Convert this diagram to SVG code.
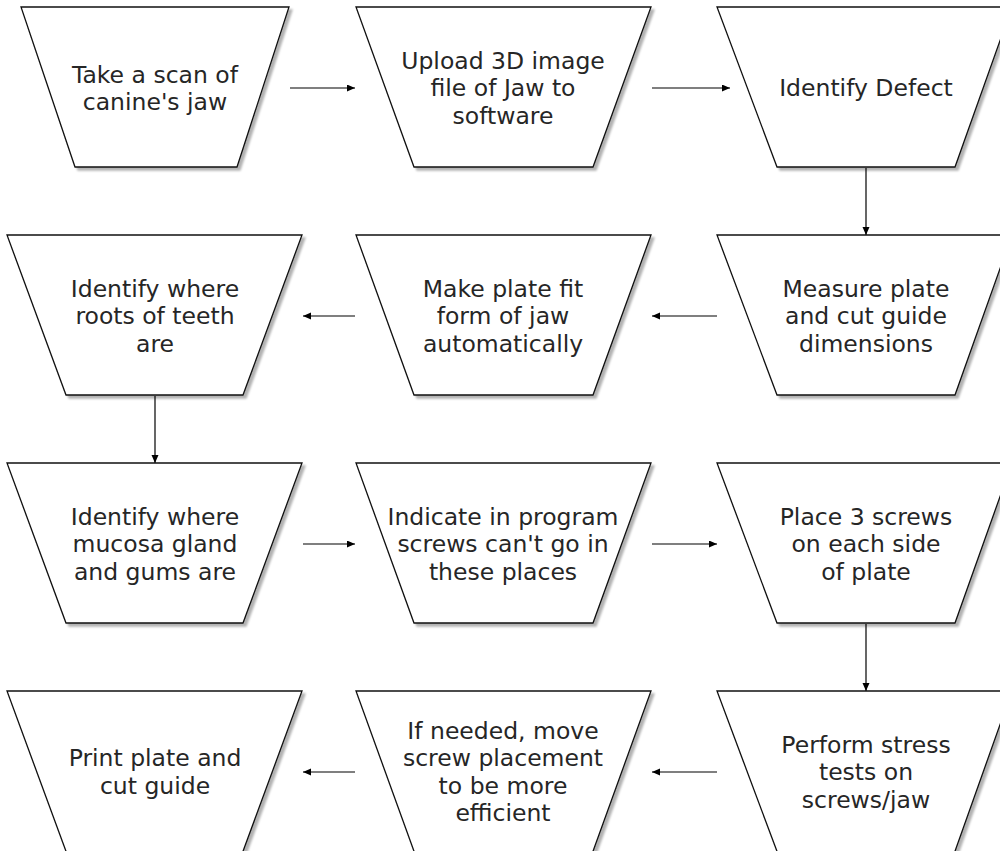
<svg xmlns="http://www.w3.org/2000/svg" width="1000" height="851" viewBox="0 0 1000 851">
<defs>
<filter id="sh" x="-10%" y="-10%" width="130%" height="130%">
<feDropShadow dx="3" dy="3" stdDeviation="1" flood-color="#000" flood-opacity="0.3"/>
</filter>
<marker id="ah" markerWidth="9" markerHeight="8" refX="8" refY="3.5" orient="auto" markerUnits="userSpaceOnUse">
<path d="M0,0 L8,3.5 L0,7 z" fill="#000"/>
</marker>
</defs>
<style>
.shape{fill:#fff;stroke:#111;stroke-width:1.3;filter:url(#sh)}
.lbl{font-family:"DejaVu Sans",Verdana,sans-serif;font-size:23.5px;fill:#262626;text-anchor:middle}
.edge{stroke:#000;stroke-width:1.2;fill:none;marker-end:url(#ah)}
</style>
<rect width="1000" height="851" fill="#fff"/>
<g id="connectors">
<line class="edge" x1="290" y1="88" x2="355" y2="88"/>
<line class="edge" x1="652" y1="88" x2="730" y2="88"/>
<line class="edge" x1="866" y1="168" x2="866" y2="235"/>
<line class="edge" x1="717" y1="316" x2="652" y2="316"/>
<line class="edge" x1="355" y1="316" x2="303" y2="316"/>
<line class="edge" x1="155" y1="396" x2="155" y2="463"/>
<line class="edge" x1="303" y1="544" x2="355" y2="544"/>
<line class="edge" x1="652" y1="544" x2="717" y2="544"/>
<line class="edge" x1="866" y1="624" x2="866" y2="691"/>
<line class="edge" x1="717" y1="772" x2="652" y2="772"/>
<line class="edge" x1="355" y1="772" x2="303" y2="772"/>
</g>
<g id="n1"><polygon class="shape" points="21,7 289,7 237,167 75,167"/>
<text class="lbl"><tspan x="155" y="82.5">Take a scan of</tspan><tspan x="155" y="110">canine's jaw</tspan></text></g>
<g id="n2"><polygon class="shape" points="356,7 651,7 593,167 414,167"/>
<text class="lbl"><tspan x="503" y="68.5">Upload 3D image</tspan><tspan x="503" y="96">file of Jaw to</tspan><tspan x="503" y="123.5">software</tspan></text></g>
<g id="n3"><polygon class="shape" points="717,7 1012,7 955,167 777,167"/>
<text class="lbl"><tspan x="866" y="96">Identify Defect</tspan></text></g>
<g id="n4"><polygon class="shape" points="717,235 1012,235 955,395 777,395"/>
<text class="lbl"><tspan x="866" y="296.5">Measure plate</tspan><tspan x="866" y="324">and cut guide</tspan><tspan x="866" y="351.5">dimensions</tspan></text></g>
<g id="n5"><polygon class="shape" points="356,235 651,235 593,395 414,395"/>
<text class="lbl"><tspan x="503" y="296.5">Make plate fit</tspan><tspan x="503" y="324">form of jaw</tspan><tspan x="503" y="351.5">automatically</tspan></text></g>
<g id="n6"><polygon class="shape" points="7,235 302,235 243,395 66,395"/>
<text class="lbl"><tspan x="155" y="296.5">Identify where</tspan><tspan x="155" y="324">roots of teeth</tspan><tspan x="155" y="351.5">are</tspan></text></g>
<g id="n7"><polygon class="shape" points="7,463 302,463 243,623 66,623"/>
<text class="lbl"><tspan x="155" y="524.5">Identify where</tspan><tspan x="155" y="552">mucosa gland</tspan><tspan x="155" y="579.5">and gums are</tspan></text></g>
<g id="n8"><polygon class="shape" points="356,463 651,463 593,623 414,623"/>
<text class="lbl"><tspan x="503" y="524.5">Indicate in program</tspan><tspan x="503" y="552">screws can't go in</tspan><tspan x="503" y="579.5">these places</tspan></text></g>
<g id="n9"><polygon class="shape" points="717,463 1012,463 955,623 777,623"/>
<text class="lbl"><tspan x="866" y="524.5">Place 3 screws</tspan><tspan x="866" y="552">on each side</tspan><tspan x="866" y="579.5">of plate</tspan></text></g>
<g id="n10"><polygon class="shape" points="717,691 1012,691 954,854 778,854"/>
<text class="lbl"><tspan x="866" y="752.5">Perform stress</tspan><tspan x="866" y="780">tests on</tspan><tspan x="866" y="807.5">screws/jaw</tspan></text></g>
<g id="n11"><polygon class="shape" points="356,691 651,691 592,854 415,854"/>
<text class="lbl"><tspan x="503" y="738.75">If needed, move</tspan><tspan x="503" y="766.25">screw placement</tspan><tspan x="503" y="793.75">to be more</tspan><tspan x="503" y="821.25">efficient</tspan></text></g>
<g id="n12"><polygon class="shape" points="7,691 302,691 242,854 67,854"/>
<text class="lbl"><tspan x="155" y="766.25">Print plate and</tspan><tspan x="155" y="793.75">cut guide</tspan></text></g>
</svg>
